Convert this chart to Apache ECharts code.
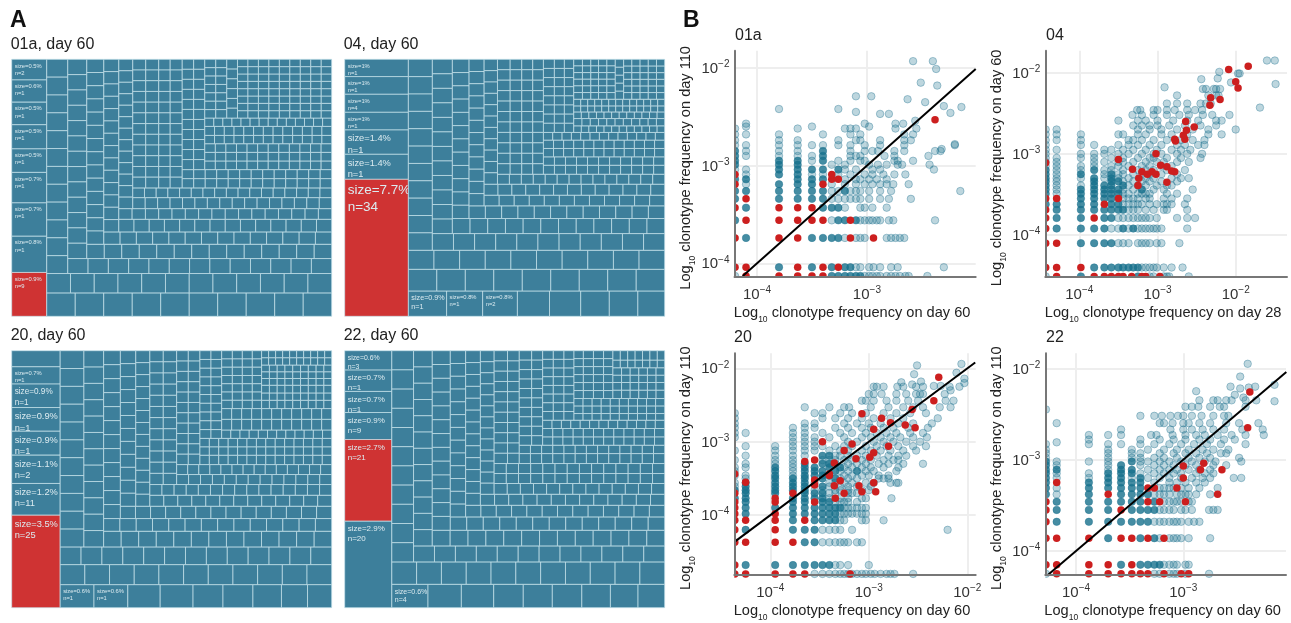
<!DOCTYPE html>
<html><head><meta charset="utf-8">
<style>html,body{margin:0;padding:0;background:#fff}#c{width:1291px;height:623px}</style>
<script src="https://cdn.jsdelivr.net/npm/echarts@6/dist/echarts.min.js"></script>
</head><body><div id="c"></div>
<script>
// ---------- Panel A: tile strips: [direction, count, tile weight] or [direction, [tile weights]] ----------
const strips01a=[['v',[6.5,7.0,7.1,7.6,7.4,9.6,10.5,11.4,13.8]],['h',10,5.99],['h',12,4.13],['v',12,3.37],['h',13,2.73],['v',13,2.62],['h',14,2.25],['v',14,2.02],['h',14,1.80],['v',14,1.66],['h',14,1.73],['h',16,1.27],['v',13,1.44],['h',16,1.23],['h',17,1.02],['v',12,1.25],['v',12,1.25],['v',12,1.10],['v',12,1.16],['h',13,.96],['h',13,.93],['v',11,1.03],['v',11,1.0],['h',12,.82],['h',12,.82],['h',12,.82],['h',13,.73],['h',13,.79],['h',14,.68],['v',7,.83],['v',7,.83],['v',6,.94],['h',9,.69],['h',9,.69],['h',9,.69],['h',9,.69],['h',9,.69],['h',9,.69],['h',9,.69],['h',9,.69]];
const strips04=[['v',[9.9,10.1,10.3,10.1,13.9,14.3,78.3]],['h',[8.7,8.2,7.9,7.3,7.1,6.5,6.5,6.1]],['h',9,5.55],['h',10,4.38],['v',11,3.74],['h',11,3.16],['v',12,2.61],['h',12,2.39],['v',12,1.99],['h',12,1.86],['v',12,1.65],['h',12,1.44],['h',13,1.37],['v',11,1.36],['h',14,1.07],['v',11,1.19],['v',11,1.09],['v',11,1.03],['v',11,1.0],['h',11,.89],['h',11,.83],['h',12,.76],['h',12,.76],['h',13,.64],['v',8,.90],['v',8,.82],['v',8,.77],['h',12,.45],['h',11,.54],['h',12,.45],['h',13,.38],['h',13,.42],['v',6,.52],['v',6,.50],['v',6,.46],['v',6,.50],['v',6,.50],['v',5,.60],['h',5,.49],['h',5,.49],['h',5,.49],['h',5,.49],['h',5,.49],['h',5,.49]];
const strips20=[['v',[7.0,7.5,10.2,10.3,10.4,12.3,13.8,40.2]],['h',[7.0,7.0,6.7,6.8,6.2,6.2,5.9,5.4,5.0]],['h',11,4.43],['h',13,3.31],['v',11,3.80],['v',12,2.89],['h',13,2.47],['h',14,1.85],['v',12,2.10],['h',14,1.67],['v',12,1.79],['v',13,1.51],['h',13,1.38],['h',15,1.16],['v',12,1.34],['v',12,1.34],['h',13,1.07],['h',14,.99],['v',11,1.08],['v',11,1.08],['h',14,.79],['h',14,.71],['h',14,.71],['v',10,.87],['v',10,.84],['h',12,.69],['h',11,.96],['h',11,.96],['v',7,.79],['v',7,.74],['v',7,.74],['v',7,.69],['h',9,.58],['h',9,.51],['h',9,.54],['h',9,.47],['h',9,.47],['h',9,.47],['h',10,.46],['h',10,.44]];
const strips22=[['v',[8.2,9.0,8.9,11.4,34.5,36.5]],['h',[7.6,7.0,6.8,6.2,6.1,6.2,6.0,5.8,5.6]],['h',11,4.97],['v',11,3.74],['h',12,3.0],['v',12,2.73],['h',13,2.51],['v',13,2.23],['h',13,1.97],['v',13,1.76],['h',13,1.60],['v',13,1.57],['h',13,1.40],['v',13,1.36],['h',13,1.26],['h',14,1.09],['h',14,1.09],['v',11,1.23],['v',11,1.08],['h',13,1.0],['h',13,.84],['v',10,1.05],['v',10,.93],['h',12,.76],['h',12,.76],['h',13,.70],['v',8,.83],['v',8,.83],['v',8,.78],['h',10,.54],['h',10,.62],['h',10,.60],['v',6,.67],['v',6,.72],['v',6,.72],['v',6,.67],['h',6,.65],['h',6,.59],['h',6,.57],['h',6,.57],['h',7,.51],['h',7,.62]];
// tile labels, in tile order ('' = unlabelled)
const labels01a=['size=0.5%\nn=2','size=0.6%\nn=1','size=0.5%\nn=1','size=0.5%\nn=1','size=0.5%\nn=1','size=0.7%\nn=1','size=0.7%\nn=1','size=0.8%\nn=1','size=0.9%\nn=9'];
const labels04=['size=1%\nn=1','size=1%\nn=1','size=1%\nn=4','size=1%\nn=1','size=1.4%\nn=1','size=1.4%\nn=1','size=7.7%\nn=34','size=0.9%\nn=1','size=0.8%\nn=1','size=0.8%\nn=2'];
const labels20=['','size=0.7%\nn=1','size=0.9%\nn=1','size=0.9%\nn=1','size=0.9%\nn=1','size=1.1%\nn=2','size=1.2%\nn=11','size=3.5%\nn=25','size=0.6%\nn=1','size=0.6%\nn=1'];
const labels22=['size=0.6%\nn=3','size=0.7%\nn=1','size=0.7%\nn=1','size=0.9%\nn=9','size=2.7%\nn=21','size=2.9%\nn=20','size=0.6%\nn=4'];
const labelFont01a=[5.8,5.8,5.8,5.8,5.8,5.8,5.8,5.8,5.8];
const labelFont04=[5.8,5.8,5.8,5.8,9.3,9.3,13.5,7.2,5.8,5.8];
const labelFont20=[0,5.8,8.2,9.3,9.3,9.3,9.3,9.3,5.8,5.8];
const labelFont22=[6.9,8,8,8,8,8,7];
const redTile01a=8, redTile04=6, redTile20=7, redTile22=4;

// ---------- Panel B: log10 frequency: rows of [log10 y, [log10 x ...]] ----------
const blue01a=[[-4.13,[-4.20,-3.32,-3.26,-3.20,-3.15,-3.10,-3.06,-3.02,-2.98,-2.95,-2.91,-2.88,-2.82,-2.78,-2.74,-2.70,-2.65,-2.62,-2.45]],[-4.04,[-3.80,-3.50,-3.32,-3.20,-3.15,-3.10,-3.06,-2.98,-2.94,-2.88,-2.78,-2.72,-2.30]],[-3.74,[-4.10,-3.50,-3.40,-3.32,-3.26,-3.20,-3.10,-3.06,-3.02,-2.82,-2.78,-2.74,-2.70,-2.66]],[-3.56,[-4.20,-3.32,-3.26,-3.20,-3.10,-3.06,-3.02,-2.98,-2.95,-2.91,-2.88,-2.80,-2.76,-2.38]],[-3.43,[-4.10,-3.40,-3.32,-3.26,-3.20,-3.06,-3.02,-2.95,-2.82]],[-3.34,[-4.20,-3.80,-3.63,-3.50,-3.40,-3.32,-3.26,-3.20,-3.15,-3.10,-3.06,-2.98,-2.88,-2.80,-2.60]],[-3.26,[-4.20,-4.10,-3.80,-3.63,-3.50,-3.40,-3.32,-3.26,-3.20,-3.15,-3.10,-3.06,-2.98,-2.88,-2.78,-2.15]],[-3.19,[-4.10,-3.80,-3.63,-3.50,-3.32,-3.20,-3.10,-3.02,-2.95,-2.88,-2.82,-2.76,-2.62]],[-3.14,[-4.20,-4.10,-3.63,-3.50,-3.40,-3.20,-3.10,-3.06,-2.98,-2.91,-2.82]],[-3.09,[-4.10,-3.80,-3.63,-3.50,-3.40,-3.26,-3.15,-3.02,-2.95,-2.85,-2.75,-2.65]],[-3.04,[-4.20,-4.10,-3.80,-3.63,-3.50,-3.40,-3.26,-3.20,-3.10,-2.95,-2.88,-2.39]],[-2.99,[-4.20,-3.80,-3.63,-3.32,-3.20,-2.98,-2.90,-2.82,-2.72,-2.68,-2.43]],[-2.95,[-4.20,-3.80,-3.63,-3.50,-3.40,-3.26,-3.15,-3.06,-3.02,-2.75,-2.72,-2.58]],[-2.90,[-4.20,-4.10,-3.80,-3.63,-3.50,-3.40,-3.15,-3.10,-3.06,-2.84,-2.75,-2.44]],[-2.85,[-4.20,-4.10,-3.80,-3.63,-3.40,-3.15,-3.02,-2.95,-2.90,-2.75,-2.66,-2.38,-2.33]],[-2.79,[-4.20,-4.10,-3.80,-3.63,-3.50,-3.40,-3.26,-3.15,-3.02,-2.88,-2.66,-2.20]],[-2.74,[-4.20,-3.80,-3.63,-3.26,-3.10,-3.06,-2.88,-2.66,-2.60]],[-2.68,[-4.20,-4.10,-3.80,-3.40,-3.15,-3.06,-2.66,-2.58]],[-2.62,[-4.20,-3.63,-3.20,-3.15,-3.10,-2.74,-2.55]],[-2.60,[-4.10,-3.50,-2.98]],[-2.57,[-4.10,-3.02,-2.74,-2.67]],[-2.54,[-2.56]],[-2.47,[-2.88,-2.80]],[-2.45,[-3.10]],[-2.42,[-3.80,-3.26]],[-2.29,[-3.10,-2.96]],[-2.32,[-2.63]],[-2.35,[-2.47]],[-2.39,[-2.30]],[-2.40,[-2.14]],[-2.46,[-2.24]],[-2.18,[-2.36]],[-2.15,[-2.51]],[-2.01,[-2.37]],[-1.93,[-2.40,-2.58]],[-2.78,[-2.20]],[-2.83,[-2.32]]];
const dense01a=[[-4.13,[-3.32,-3.26,-3.20,-3.15,-3.10,-3.06]],[-4.04,[-3.80,-3.50,-3.32,-3.20,-3.15]],[-3.74,[-4.10,-3.50,-3.40,-3.32,-3.26]],[-3.56,[-4.20,-3.26,-3.20,-3.10]],[-3.43,[-4.10,-3.40,-3.32,-3.26]],[-3.34,[-4.20,-3.80,-3.63,-3.50,-3.40]],[-3.26,[-4.20,-4.10,-3.80,-3.63,-3.50,-3.40,-3.20]],[-3.19,[-3.80,-3.63,-3.50]],[-3.14,[-4.20,-4.10,-3.63,-3.50,-3.40]],[-3.09,[-3.80,-3.63]],[-3.04,[-3.80,-3.63,-3.50,-3.40,-3.26]],[-2.99,[-4.20,-3.80,-3.63]],[-2.95,[-4.20,-3.80,-3.63,-3.40]],[-2.90,[-4.20,-3.40]],[-2.85,[-4.20,-3.40]]];
const red01a=[[-4.13,[-4.10,-3.80,-3.63,-3.50,-3.40]],[-4.04,[-4.20,-4.10,-3.63,-3.40,-3.26]],[-3.74,[-4.20,-3.80,-3.63,-3.15,-2.94]],[-3.56,[-4.10,-3.80,-3.63,-3.50,-3.40,-3.15]],[-3.43,[-4.20,-3.80,-3.63,-3.50]],[-3.34,[-4.10]],[-3.19,[-4.20,-3.40]],[-3.14,[-3.26,-3.32]],[-3.09,[-4.20,-3.32]],[-2.53,[-2.38]]];
const blue04=[[-4.51,[-4.43,-3.98,-3.25,-3.10,-3.05,-2.92,-2.88,-2.85,-2.60]],[-4.40,[-3.81,-3.68,-3.59,-3.50,-3.44,-3.37,-3.31,-3.25,-3.20,-3.15,-3.10,-3.05,-3.01,-2.92,-2.82,-2.68]],[-4.10,[-3.98,-3.81,-3.68,-3.59,-3.50,-3.44,-3.37,-3.25,-3.20,-3.15,-3.10,-3.01,-2.95,-2.72]],[-3.92,[-4.29,-3.98,-3.81,-3.68,-3.59,-3.50,-3.44,-3.37,-3.31,-3.25,-3.20,-3.15,-3.10,-3.05,-3.01,-2.95,-2.62]],[-3.79,[-4.29,-3.98,-3.68,-3.59,-3.50,-3.44,-3.37,-3.31,-3.25,-3.20,-3.15,-3.10,-3.01,-2.75,-2.62,-2.52]],[-3.69,[-4.29,-3.98,-3.81,-3.68,-3.59,-3.50,-3.44,-3.37,-3.31,-3.25,-3.15,-3.05,-2.92,-2.88,-2.62]],[-3.62,[-4.43,-4.29,-3.98,-3.81,-3.59,-3.50,-3.44,-3.37,-3.31,-3.25,-3.20,-3.10,-3.01,-2.92,-2.88,-2.82,-2.65]],[-3.55,[-3.98,-3.81,-3.68,-3.59,-3.44,-3.37,-3.31,-3.25,-3.15,-3.10,-2.92,-2.82,-2.62]],[-3.49,[-4.43,-4.29,-3.98,-3.81,-3.68,-3.59,-3.50,-3.44,-3.37,-3.25,-3.20,-3.15,-3.10,-2.88,-2.75]],[-3.44,[-4.43,-4.29,-3.98,-3.81,-3.68,-3.59,-3.50,-3.44,-3.31,-3.20,-3.05,-2.92,-2.55]],[-3.39,[-4.43,-4.29,-3.98,-3.81,-3.68,-3.59,-3.44,-3.37,-3.25,-3.15,-3.01,-2.88,-2.82]],[-3.34,[-4.43,-4.29,-3.81,-3.59,-3.50,-3.44,-3.31,-3.20,-3.10,-2.95,-2.75]],[-3.30,[-4.43,-4.29,-3.98,-3.81,-3.68,-3.59,-3.50,-3.37,-3.15,-3.05,-2.82,-2.70,-2.60]],[-3.25,[-4.43,-4.29,-3.98,-3.68,-3.59,-3.50,-3.44,-3.31,-3.20,-3.10,-2.95,-2.75]],[-3.20,[-4.43,-4.29,-3.98,-3.81,-3.68,-3.59,-3.44,-3.25,-3.15,-3.05,-2.88,-2.65]],[-3.15,[-4.43,-4.29,-3.98,-3.81,-3.59,-3.50,-3.37,-3.20,-3.10,-2.95,-2.82]],[-3.10,[-4.43,-4.29,-3.81,-3.68,-3.50,-3.44,-3.31,-3.15,-3.01,-2.92,-2.75,-2.60]],[-3.05,[-4.43,-4.29,-3.98,-3.81,-3.59,-3.44,-3.25,-3.10,-3.05,-2.88,-2.70,-2.45]],[-3.00,[-4.43,-3.98,-3.81,-3.68,-3.50,-3.37,-3.20,-3.05,-2.95,-2.75,-2.62,-2.43]],[-2.95,[-4.43,-4.29,-3.68,-3.59,-3.44,-3.31,-3.15,-3.01,-2.82,-2.70,-2.58]],[-2.89,[-4.43,-3.98,-3.81,-3.50,-3.37,-3.25,-3.10,-2.95,-2.75,-2.65,-2.48,-2.40]],[-2.83,[-4.43,-4.29,-3.98,-3.37,-3.31,-3.20,-3.05,-2.88,-2.70,-2.55,-2.40]],[-2.76,[-4.43,-4.29,-3.98,-3.50,-3.44,-3.25,-3.15,-2.95,-2.82,-2.62,-2.35,-2.18]],[-2.70,[-4.43,-4.29,-3.25,-3.10,-2.95,-2.75,-2.55,-2.35,-2.00]],[-2.65,[-3.31,-3.20,-3.10,-3.00,-2.85,-2.65,-2.45,-2.25]],[-2.59,[-3.50,-3.25,-3.15,-3.00,-2.80,-2.62,-2.48,-2.25,-2.18]],[-2.52,[-3.32,-3.20,-3.05,-2.88,-2.72,-2.60,-2.42,-2.30,-2.08]],[-2.46,[-3.26,-3.22,-3.05,-3.00,-2.88,-2.78,-2.62,-2.52,-2.43]],[-2.43,[-1.69]],[-2.38,[-2.88,-2.75,-2.62,-2.45,-2.38,-2.32]],[-2.28,[-2.75,-2.35,-2.25,-2.22]],[-2.18,[-2.91]],[-2.20,[-2.42,-2.38,-2.28,-2.25,-2.20]],[-2.08,[-2.44]],[-2.07,[-2.23]],[-2.12,[-2.06]],[-2.01,[-1.97,-1.95]],[-1.99,[-2.21]],[-2.14,[-1.49]],[-1.85,[-1.60,-1.50]]];
const dense04=[[-4.51,[-3.98,-3.25]],[-4.40,[-3.81,-3.68,-3.59,-3.50,-3.44,-3.37,-3.31,-3.25]],[-4.10,[-3.98,-3.81,-3.68,-3.59]],[-3.92,[-4.29,-3.98,-3.81,-3.68,-3.44,-3.31]],[-3.79,[-4.29,-3.98,-3.68,-3.59]],[-3.69,[-4.29,-3.98,-3.81,-3.68,-3.59,-3.50,-3.44]],[-3.62,[-4.43,-4.29,-3.98,-3.81,-3.59,-3.50]],[-3.55,[-3.98,-3.81,-3.68,-3.59]],[-3.49,[-4.43,-3.98,-3.81,-3.68,-3.59,-3.50]],[-3.44,[-4.43,-3.98,-3.81,-3.68,-3.59,-3.50,-3.20]],[-3.39,[-4.43,-3.81,-3.68,-3.59,-3.44]],[-3.34,[-4.43,-3.81,-3.59,-3.50]],[-3.30,[-4.43,-3.81,-3.59]],[-3.25,[-4.43,-3.98,-3.59]],[-3.20,[-4.43,-3.81]]];
const red04=[[-4.51,[-4.29,-3.81,-3.68,-3.59,-3.50,-3.44,-3.33,-3.20,-3.15,-2.97]],[-4.40,[-4.43,-4.29,-3.98]],[-4.10,[-4.43,-4.29]],[-3.92,[-4.43]],[-3.79,[-4.43,-3.81]],[-3.69,[-4.43]],[-3.62,[-3.68]],[-3.55,[-4.43,-4.29,-3.50]],[-3.39,[-3.25]],[-3.30,[-3.24]],[-3.35,[-2.88]],[-3.11,[-4.43]],[-3.07,[-3.50]],[-3.19,[-3.32]],[-3.22,[-3.20,-3.07,-2.78]],[-3.25,[-3.13,-3.02]],[-3.00,[-3.02]],[-3.14,[-2.96]],[-3.16,[-2.88]],[-3.21,[-2.82]],[-2.82,[-2.78,-2.65]],[-2.84,[-2.77]],[-2.77,[-2.67]],[-2.71,[-2.63]],[-2.60,[-2.64]],[-2.67,[-2.53]],[-2.40,[-2.33]],[-2.31,[-2.32]],[-2.33,[-2.20]],[-1.96,[-2.09]],[-2.11,[-2.00]],[-2.19,[-1.97]],[-1.92,[-1.84]]];
const blue20=[[-4.80,[-3.55,-3.47,-3.40,-3.34,-3.29,-3.25,-3.21,-3.17,-3.12,-3.07,-3.03,-2.98,-2.94,-2.88,-2.82,-2.78,-2.74,-2.55]],[-4.68,[-4.25,-3.95,-3.77,-3.65,-3.55,-3.47,-3.40,-3.34,-3.29,-3.21,-3.00]],[-4.37,[-3.65,-3.55,-3.47,-3.40,-3.34,-3.29,-3.25,-3.21,-3.12,-3.07]],[-4.20,[-4.25,-3.77,-3.65,-3.55,-3.47,-3.40,-3.34,-3.29,-3.17,-2.20]],[-4.07,[-3.77,-3.55,-3.47,-3.40,-3.34,-3.29,-3.25,-3.07,-3.03,-2.85]],[-3.98,[-4.25,-3.77,-3.65,-3.55,-3.47,-3.40,-3.34,-3.29,-3.25,-3.21,-3.17,-3.12,-3.07,-3.03]],[-3.90,[-4.25,-3.95,-3.77,-3.65,-3.55,-3.47,-3.40,-3.34,-3.29,-3.25,-3.21,-3.17,-3.12,-3.07,-3.03]],[-3.82,[-4.25,-3.77,-3.65,-3.47,-3.40,-3.34,-3.29,-3.25,-3.21,-3.12]],[-3.77,[-4.36,-4.25,-3.77,-3.65,-3.55,-3.47,-3.40,-3.29,-3.21,-3.07,-3.03,-2.77]],[-3.70,[-4.25,-3.95,-3.65,-3.55,-3.47,-3.40,-3.34,-3.21,-3.17,-3.12]],[-3.66,[-4.36,-4.25,-3.95,-3.77,-3.65,-3.55,-3.47,-3.34,-3.29,-3.21,-3.07,-3.00]],[-3.61,[-4.36,-4.25,-3.95,-3.77,-3.65,-3.47,-3.40,-3.29,-3.21,-3.12,-2.98]],[-3.56,[-4.36,-4.25,-3.95,-3.77,-3.65,-3.55,-3.40,-3.34,-3.25,-3.17,-3.03,-2.95,-2.78,-2.72,-2.70]],[-3.50,[-4.25,-3.95,-3.77,-3.65,-3.47,-3.34,-3.29,-3.21,-3.12,-2.90,-2.85,-2.80]],[-3.46,[-4.36,-4.25,-3.95,-3.77,-3.65,-3.55,-3.47,-3.40,-3.25,-3.17,-3.07,-3.00,-2.90,-2.80]],[-3.40,[-4.36,-3.95,-3.77,-3.65,-3.55,-3.47,-3.34,-3.29,-3.21,-3.12,-3.03,-2.95,-2.72]],[-3.35,[-4.36,-4.25,-3.95,-3.77,-3.65,-3.55,-3.40,-3.29,-3.25,-3.17,-3.07,-2.98,-2.85,-2.70]],[-3.30,[-4.25,-3.95,-3.77,-3.65,-3.47,-3.40,-3.34,-3.21,-3.12,-3.03,-2.90,-2.80,-2.65,-2.45]],[-3.25,[-4.36,-3.95,-3.77,-3.47,-3.40,-3.34,-3.25,-3.17,-3.07,-2.98,-2.85,-2.75,-2.70]],[-3.19,[-4.25,-3.95,-3.77,-3.65,-3.47,-3.40,-3.34,-3.29,-3.21,-3.12,-3.03,-2.92,-2.80,-2.70,-2.62]],[-3.12,[-4.36,-3.95,-3.77,-3.65,-3.55,-3.40,-3.29,-3.21,-3.07,-2.98,-2.88,-2.78,-2.65,-2.52]],[-3.06,[-4.25,-3.95,-3.77,-3.65,-3.55,-3.47,-3.34,-3.25,-3.17,-3.03,-2.92,-2.82,-2.70,-2.55,-2.42]],[-3.00,[-3.77,-3.65,-3.55,-3.21,-3.12,-2.95,-2.85,-2.75,-2.62,-2.48]],[-2.94,[-4.36,-3.77,-3.65,-3.55,-3.40,-3.25,-3.07,-2.98,-2.88,-2.78,-2.68,-2.55,-2.41]],[-2.88,[-4.36,-4.25,-3.77,-3.65,-3.47,-3.29,-3.17,-3.03,-2.92,-2.82,-2.72,-2.58,-2.45]],[-2.81,[-4.36,-3.77,-3.65,-3.55,-3.34,-3.21,-3.07,-2.98,-2.85,-2.75,-2.60,-2.40]],[-2.75,[-4.36,-3.65,-3.55,-3.25,-3.12,-3.00,-2.88,-2.70,-2.55,-2.36]],[-2.68,[-4.36,-3.47,-3.34,-3.21,-3.07,-2.95,-2.78,-2.65,-2.30]],[-2.61,[-4.36,-3.55,-3.47,-3.29,-3.17,-3.03,-2.85,-2.72,-2.58,-2.42]],[-2.53,[-3.65,-3.40,-3.25,-3.20,-2.98,-2.80,-2.65,-2.55,-2.45,-2.28,-2.17]],[-2.44,[-3.07,-3.03,-2.95,-2.82,-2.72,-2.60,-2.50,-2.22,-2.14]],[-2.35,[-3.00,-2.95,-2.87,-2.72,-2.62,-2.52,-2.48,-2.45,-2.23]],[-2.25,[-2.95,-2.92,-2.85,-2.71,-2.65,-2.52,-2.45,-2.18,-2.08]],[-2.19,[-2.67]],[-2.22,[-2.56]],[-2.18,[-2.47]],[-2.08,[-2.54]],[-1.96,[-2.51]],[-1.94,[-2.06]],[-2.06,[-2.11]],[-2.14,[-2.03]],[-2.20,[-2.03]],[-2.30,[-2.17]],[-2.24,[-2.27,-2.34]]];
const dense20=[[-4.68,[-4.25,-3.95,-3.77,-3.65,-3.55,-3.47,-3.40]],[-4.37,[-3.65,-3.55]],[-4.20,[-4.25,-3.77,-3.65,-3.55]],[-4.07,[-3.77,-3.55,-3.47,-3.40,-3.34]],[-3.98,[-4.25,-3.77,-3.65,-3.55,-3.47,-3.40,-3.34]],[-3.90,[-4.25,-3.95,-3.77,-3.65,-3.55,-3.47,-3.40,-3.34,-3.29]],[-3.82,[-4.25,-3.77,-3.65,-3.47,-3.40]],[-3.77,[-4.36,-4.25,-3.77,-3.65,-3.55,-3.47]],[-3.70,[-4.25,-3.95,-3.65,-3.55,-3.47]],[-3.66,[-4.36,-4.25,-3.95,-3.77,-3.65]],[-3.61,[-4.25,-3.95,-3.77,-3.65,-3.47]],[-3.56,[-4.25,-3.95,-3.77,-3.65]],[-3.50,[-3.95,-3.77,-3.65,-3.47,-3.34]],[-3.46,[-3.95,-3.65,-3.55,-3.47,-3.40]],[-3.40,[-3.95,-3.65,-3.55,-3.47,-3.34,-3.12]],[-3.35,[-3.95,-3.65,-3.55,-3.40,-3.29]],[-3.30,[-3.65,-3.47,-3.40]],[-3.19,[-3.47,-3.40]]];
const red20=[[-4.80,[-4.36,-4.25,-3.95,-3.77,-3.65,-3.19]],[-4.68,[-4.36]],[-4.37,[-4.36,-4.25,-3.95,-3.77]],[-4.20,[-4.36,-3.95]],[-4.07,[-4.36,-4.25,-3.95,-3.65]],[-3.98,[-4.36,-3.95]],[-3.90,[-4.36]],[-3.82,[-4.36,-3.95,-3.55]],[-3.77,[-3.95,-3.34]],[-3.70,[-4.36,-3.77,-3.25]],[-3.68,[-3.07,-2.93]],[-3.59,[-3.55]],[-3.60,[-3.35,-3.10]],[-3.52,[-3.55]],[-3.53,[-3.29]],[-3.56,[-2.95]],[-3.46,[-3.40]],[-3.44,[-3.40]],[-3.27,[-3.65]],[-3.25,[-3.55]],[-3.29,[-3.35]],[-3.23,[-3.13]],[-3.21,[-2.99]],[-3.15,[-2.95]],[-3.12,[-3.25]],[-3.06,[-2.80]],[-3.00,[-3.47]],[-3.03,[-3.17]],[-2.83,[-2.95]],[-2.81,[-2.53]],[-2.77,[-2.63]],[-2.74,[-2.78]],[-2.68,[-2.87]],[-2.62,[-3.07]],[-2.56,[-2.56]],[-2.44,[-2.34]],[-2.12,[-2.29]],[-3.44,[-4.36]],[-3.55,[-4.25]]];
const blue22=[[-4.25,[-4.28,-3.27,-3.22,-3.13,-3.09,-3.06,-2.98,-2.76]],[-4.15,[-3.58,-3.40,-3.33,-3.27,-3.22,-3.18,-3.13,-3.09,-3.06,-2.98,-2.95]],[-3.86,[-3.70,-3.40,-3.27,-3.22,-3.13,-3.09,-3.06,-3.02,-2.95,-2.75]],[-3.68,[-4.18,-3.88,-3.70,-3.58,-3.48,-3.40,-3.33,-3.27,-3.22,-3.18,-3.13,-3.09,-3.06,-3.02,-2.95,-2.90,-2.85]],[-3.55,[-4.18,-3.88,-3.70,-3.48,-3.40,-3.33,-3.27,-3.22,-3.18,-3.13,-3.09,-3.02,-2.98,-2.92,-2.76,-2.72,-2.68]],[-3.46,[-4.18,-3.88,-3.70,-3.58,-3.48,-3.40,-3.27,-3.18,-3.13,-3.09,-3.06,-3.02,-2.95,-2.92]],[-3.38,[-4.28,-4.18,-3.88,-3.58,-3.48,-3.40,-3.33,-3.27,-3.22,-3.18,-3.13,-3.06,-3.02,-2.98,-2.95,-2.88,-2.75]],[-3.31,[-4.28,-4.18,-3.88,-3.70,-3.58,-3.48,-3.40,-3.22,-3.18,-3.13,-3.09,-3.02,-2.95,-2.85,-2.68]],[-3.25,[-4.28,-3.88,-3.70,-3.58,-3.48,-3.40,-3.27,-3.13,-3.06,-2.98,-2.88,-2.80]],[-3.20,[-4.28,-4.18,-3.88,-3.70,-3.58,-3.48,-3.40,-3.33,-3.22,-3.13,-3.02,-2.92,-2.82,-2.75,-2.53,-2.46]],[-3.15,[-4.28,-4.18,-3.88,-3.70,-3.58,-3.48,-3.40,-3.27,-3.18,-3.09,-3.02,-2.88,-2.80,-2.72]],[-3.11,[-4.28,-4.18,-3.70,-3.58,-3.48,-3.33,-3.22,-3.13,-3.06,-2.95,-2.85,-2.75]],[-3.06,[-4.28,-4.18,-3.70,-3.58,-3.40,-3.27,-3.18,-3.09,-2.98,-2.88,-2.72,-2.60]],[-3.02,[-4.28,-4.18,-3.88,-3.70,-3.48,-3.40,-3.33,-3.22,-3.13,-3.02,-2.92,-2.80,-2.70,-2.46]],[-2.98,[-4.28,-3.70,-3.48,-3.40,-3.27,-3.18,-3.06,-2.95,-2.85,-2.75,-2.48]],[-2.93,[-4.28,-3.70,-3.48,-3.40,-3.22,-3.09,-2.98,-2.88,-2.78,-2.65,-2.60]],[-2.89,[-4.28,-3.70,-3.48,-3.33,-3.18,-3.06,-2.95,-2.82,-2.72,-2.58]],[-2.83,[-4.28,-3.88,-3.70,-3.58,-3.40,-3.27,-3.13,-3.02,-2.90,-2.78,-2.65,-2.42]],[-2.81,[-4.18]],[-2.78,[-3.88,-3.40,-3.22,-3.09,-2.98,-2.85,-2.75,-2.62,-2.52]],[-2.73,[-3.88,-3.70,-3.58,-3.30,-3.25,-3.10,-2.98,-2.88,-2.80,-2.68,-2.55,-2.42,-2.25]],[-2.67,[-3.58,-3.12,-3.00,-2.92,-2.82,-2.72,-2.62,-2.45,-2.26]],[-2.60,[-4.18,-3.22,-3.18,-3.10,-3.00,-2.95,-2.85,-2.75,-2.60,-2.48,-2.30]],[-2.52,[-3.40,-3.27,-3.20,-3.12,-3.05,-3.00,-2.92,-2.83,-2.72,-2.62,-2.58]],[-2.42,[-2.98,-2.92,-2.86,-2.75,-2.66,-2.62,-2.42]],[-2.35,[-2.85,-2.72,-2.68,-2.60,-2.55,-2.42,-2.32]],[-2.25,[-2.88]],[-2.20,[-2.56,-2.33]],[-2.22,[-2.47]],[-2.21,[-2.39]],[-2.18,[-2.15]],[-2.36,[-2.15]],[-2.09,[-2.47]],[-1.95,[-2.40]],[-2.45,[-4.28]],[-2.29,[-2.52]],[-2.32,[-2.44]]];
const dense22=[[-4.15,[-3.58,-3.40,-3.33,-3.27,-3.22]],[-3.86,[-3.70,-3.40,-3.27]],[-3.68,[-4.18,-3.88,-3.70,-3.58,-3.48,-3.40,-3.33]],[-3.55,[-4.18,-3.88,-3.70,-3.48,-3.40,-3.33,-3.27]],[-3.46,[-4.18,-3.88,-3.70,-3.58,-3.48,-3.40,-3.27]],[-3.38,[-4.28,-3.88,-3.58,-3.48,-3.40,-3.33]],[-3.31,[-4.28,-3.88,-3.70,-3.58,-3.48,-3.40]],[-3.25,[-4.28,-3.88,-3.70,-3.58,-3.48,-3.40]],[-3.20,[-4.28,-3.70,-3.58,-3.40]],[-3.15,[-4.28,-3.70,-3.58,-3.48]],[-3.11,[-4.28,-4.18,-3.58,-3.48]],[-3.06,[-4.28,-3.58]],[-3.02,[-4.28,-3.48]]];
const red22=[[-4.25,[-4.18,-3.88,-3.70,-3.58,-3.48,-3.40,-3.33,-3.18,-3.02,-2.95]],[-4.15,[-4.28,-4.18,-3.88,-3.70,-3.48]],[-3.86,[-4.28,-4.18,-3.88,-3.58,-3.48,-3.33,-3.18]],[-3.68,[-4.28]],[-3.55,[-4.28,-3.58]],[-3.46,[-4.28,-3.33,-3.22,-2.98]],[-3.38,[-3.70,-2.68]],[-3.31,[-3.33,-3.27,-3.06]],[-3.25,[-4.18]],[-3.20,[-3.00]],[-3.11,[-2.84,-2.64]],[-3.07,[-3.00]],[-3.04,[-2.81]],[-2.65,[-2.40]],[-2.26,[-2.38]]];
// identity line end points (log10 frequency)
const diag01a=[-4.13,-2.01], diag20=[-4.36,-1.92], diag22=[-4.26,-2.04];

const treemaps=[
 {title:'01a, day 60',strips:strips01a,labels:labels01a,fonts:labelFont01a,red:redTile01a,box:[11.7,59.3,320,257],ty:37},
 {title:'04, day 60',strips:strips04,labels:labels04,fonts:labelFont04,red:redTile04,box:[344.7,59.3,320,257],ty:37},
 {title:'20, day 60',strips:strips20,labels:labels20,fonts:labelFont20,red:redTile20,box:[11.7,350.7,320,257],ty:328},
 {title:'22, day 60',strips:strips22,labels:labels22,fonts:labelFont22,red:redTile22,box:[344.7,350.7,320,257],ty:328}];
const scatters=[
 {title:'01a',blue:blue01a,dense:dense01a,red:red01a,diag:diag01a,box:[734.5,50.7,241.2,226.3],x:[-4.205,-2.01],y:[-4.14,-1.823],xn:'day 60',yn:'day 110',tx:735,ty:28},
 {title:'04',blue:blue04,dense:dense04,red:red04,diag:null,box:[1045.3,50.7,241.7,226.3],x:[-4.435,-1.344],y:[-4.517,-1.729],xn:'day 28',yn:'day 60',tx:1046,ty:28},
 {title:'20',blue:blue20,dense:dense20,red:red20,diag:diag20,box:[734.3,353.3,241.4,227],x:[-4.365,-1.915],y:[-4.815,-1.795],xn:'day 60',yn:'day 110',tx:734,ty:330},
 {title:'22',blue:blue22,dense:dense22,red:red22,diag:diag22,box:[1045.3,353.3,240.7,227],x:[-4.286,-2.043],y:[-4.263,-1.835],xn:'day 60',yn:'day 110',tx:1046,ty:330}];

const FONT='"Liberation Sans",Arimo,Helvetica,Arial,sans-serif';
const TEAL='#3d7f9b', RED='#cf3333', BLUE_FILL='rgba(28,112,140,0.29)', BLUE_EDGE='rgba(28,112,140,0.36)', DENSE='rgba(22,112,140,0.72)', RED_PT='#cc1f1f';

// Peel strips from the remaining rectangle: 'v' = column on the left, 'h' = row at the bottom.
function layoutTiles(strips){
  const lists=strips.map(s=>Array.isArray(s[1])?s[1]:new Array(s[1]).fill(s[2]));
  const total=lists.flat().reduce((a,b)=>a+b,0);
  let x0=0,y0=0,x1=1,y1=1; const out=[];
  strips.forEach((s,i)=>{
    const sum=lists[i].reduce((a,b)=>a+b,0), share=sum/total;
    if(s[0]==='v'){
      const t=share/(y1-y0); let top=y1;
      lists[i].forEach(v=>{const h=(v/sum)*(y1-y0); out.push([x0,top-h,x0+t,top]); top-=h;});
      x0+=t;
    }else{
      const t=share/(x1-x0); let left=x0;
      lists[i].forEach(v=>{const w=(v/sum)*(x1-x0); out.push([left,y0,left+w,y0+t]); left+=w;});
      y0+=t;
    }
  });
  return out;
}
const toPoints=rows=>rows.flatMap(r=>r[1].map(x=>[Math.pow(10,x),Math.pow(10,r[0])]));

const grid=[],xAxis=[],yAxis=[],series=[],title=[],graphic=[];
title.push({text:'A',left:10,top:9,padding:0,textStyle:{fontFamily:FONT,fontSize:23,fontWeight:'bold',color:'#111'}});
title.push({text:'B',left:683,top:9,padding:0,textStyle:{fontFamily:FONT,fontSize:23,fontWeight:'bold',color:'#111'}});

treemaps.forEach(t=>{
  const g=grid.length;
  grid.push({left:t.box[0],top:t.box[1],width:t.box[2],height:t.box[3]});
  const hid={type:'value',min:0,max:1,show:false,gridIndex:g,splitLine:{show:false}};
  const xi=xAxis.push(hid)-1, yi=yAxis.push(Object.assign({},hid))-1;
  title.push({text:t.title,left:t.box[0]-1,top:t.ty,padding:0,textStyle:{fontFamily:FONT,fontSize:16,fontWeight:'normal',color:'#222'}});
  series.push({type:'custom',name:t.title,xAxisIndex:xi,yAxisIndex:yi,coordinateSystem:'cartesian2d',clip:false,silent:true,
    encode:{x:[0,2],y:[1,3]},data:layoutTiles(t.strips),
    renderItem(params,api){
      const i=params.dataIndex;
      const a=api.coord([api.value(0),api.value(3)]), b=api.coord([api.value(2),api.value(1)]);
      const kids=[{type:'rect',shape:{x:a[0],y:a[1],width:b[0]-a[0],height:b[1]-a[1]},
        style:{fill:i===t.red?RED:TEAL,stroke:'rgba(200,228,236,0.68)',lineWidth:1}}];
      if(t.labels[i]){
        const fs=t.fonts[i];
        kids.push({type:'text',x:a[0]+3,y:a[1]+3,style:{text:t.labels[i],font:fs+'px '+FONT,fill:'#dcebf0',lineHeight:fs*1.25,textAlign:'left',textVerticalAlign:'top'}});
      }
      return {type:'group',children:kids};
    }});
});

const expLabel=v=>{const l=Math.log10(v),r=Math.round(l);return Math.abs(l-r)>1e-6?'':'{b|10}{s|\u2212'+Math.abs(r)+'}';};
const labelStyle={formatter:expLabel,showMinLabel:true,showMaxLabel:true,hideOverlap:false,rich:{b:{fontFamily:FONT,fontSize:15,color:'#333',lineHeight:17,verticalAlign:'bottom'},s:{fontFamily:FONT,fontSize:10,color:'#333',lineHeight:17,verticalAlign:'top'}}};
const nameRich=(pad)=>({fontFamily:FONT,fontSize:14.6,color:'#222',padding:pad,rich:{t:{fontFamily:FONT,fontSize:14.6,color:'#222',lineHeight:16,verticalAlign:'top'},u:{fontFamily:FONT,fontSize:8.5,color:'#222',lineHeight:19,verticalAlign:'bottom'}}});
const nameOf=d=>'{t|Log}{u|10}{t| clonotype frequency on '+d+'}';

scatters.forEach(s=>{
  const g=grid.length,[L,T,W,H]=s.box;
  grid.push({left:L,top:T,width:W,height:H});
  const xr=s.x.map(v=>Math.pow(10,v)), yr=s.y.map(v=>Math.pow(10,v));
  // light grid lines on their own axes so they stay under the points
  const gl={type:'log',logBase:10,gridIndex:g,axisLine:{show:false},axisTick:{show:false},axisLabel:{show:false},z:0,
    splitLine:{show:true,showMinLine:false,showMaxLine:false,lineStyle:{color:'#eeeeee',width:2}}};
  const main={type:'log',logBase:10,gridIndex:g,z:5,splitLine:{show:false},axisTick:{show:false},minorTick:{show:false},
    axisLine:{show:true,onZero:false,lineStyle:{color:'#777',width:2}},axisLabel:Object.assign({},labelStyle,{margin:5})};
  const xi=xAxis.push(Object.assign({},main,{position:'bottom',min:xr[0],max:xr[1],name:nameOf(s.xn),nameLocation:'middle',nameGap:28,nameTextStyle:nameRich([0,6,0,0]),axisLabel:Object.assign({},labelStyle,{margin:8})}))-1;
  const yi=yAxis.push(Object.assign({},main,{position:'left',min:yr[0],max:yr[1],name:nameOf(s.yn),nameLocation:'middle',nameGap:33,nameRotate:90,nameTextStyle:nameRich([0,8,0,0])}))-1;
  const xg=xAxis.push(Object.assign({},gl,{position:'bottom',min:xr[0],max:xr[1]}))-1;
  const yg=yAxis.push(Object.assign({},gl,{position:'left',min:yr[0],max:yr[1]}))-1;
  title.push({text:s.title,left:s.tx,top:s.ty,padding:0,textStyle:{fontFamily:FONT,fontSize:16,fontWeight:'normal',color:'#222'}});
  const sym={xAxisIndex:xi,yAxisIndex:yi,silent:true,symbol:'circle',symbolSize:7.5};
  series.push(Object.assign({type:'scatter',name:s.title+' clonotypes',z:2,data:toPoints(s.blue),itemStyle:{color:BLUE_FILL,borderColor:BLUE_EDGE,borderWidth:1,opacity:1}},sym));
  series.push(Object.assign({type:'scatter',name:s.title+' repeated clonotypes',z:2.2,data:toPoints(s.dense),itemStyle:{color:DENSE,opacity:1}},sym));
  series.push(Object.assign({type:'scatter',name:s.title+' highlighted',z:2.5,data:toPoints(s.red),itemStyle:{color:RED_PT,opacity:1}},sym));
  if(s.diag) series.push({type:'line',name:s.title+' identity',xAxisIndex:xi,yAxisIndex:yi,z:4,silent:true,symbol:'none',
    data:s.diag.map(v=>[Math.pow(10,v),Math.pow(10,v)]),lineStyle:{color:'#000',width:2}});
  // hide the parts of the marks that spill past the axes
  graphic.push({type:'rect',z:3,silent:true,shape:{x:L-5,y:T-5,width:5,height:H+10},style:{fill:'#fff'}});
  graphic.push({type:'rect',z:3,silent:true,shape:{x:L-5,y:T+H,width:W+10,height:5},style:{fill:'#fff'}});
});

const chart=echarts.init(document.getElementById('c'),null,{renderer:'canvas'});
chart.setOption({animation:false,backgroundColor:'#fff',title,grid,xAxis,yAxis,series,graphic:{elements:graphic},tooltip:{show:false}});
</script></body></html>
